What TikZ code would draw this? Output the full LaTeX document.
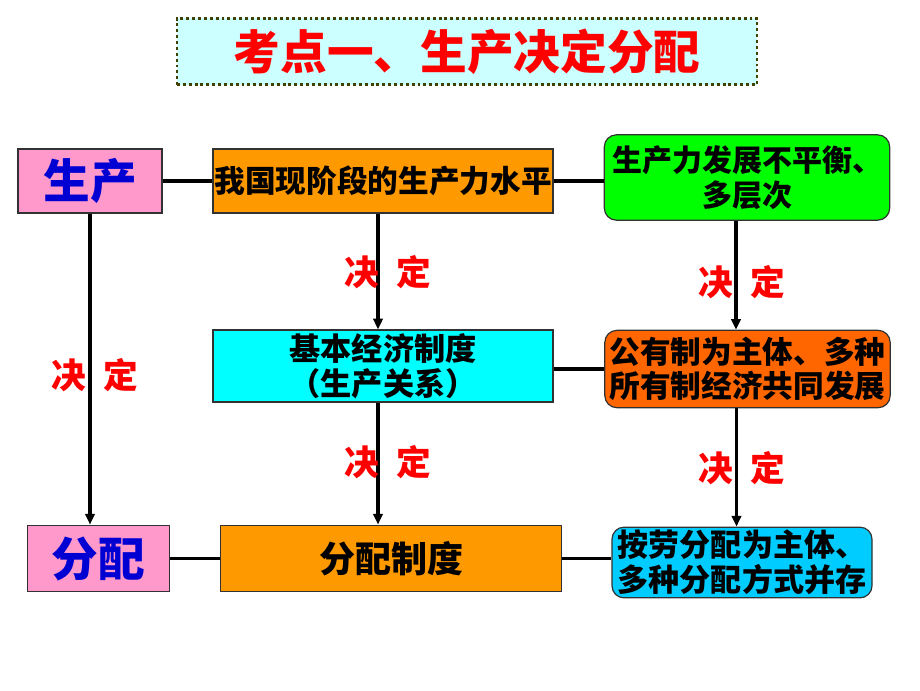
\documentclass[tikz,border=0pt]{standalone}
\usepackage{fontspec}
\setmainfont{Noto Sans CJK SC}
\usetikzlibrary{positioning, arrows.meta, calc}
\definecolor{titlebg}{RGB}{204,255,255}
\definecolor{titledot}{RGB}{64,64,0}
\definecolor{pinkcol}{RGB}{255,153,204}
\definecolor{orgcol}{RGB}{255,153,0}
\definecolor{grncol}{RGB}{0,255,0}
\definecolor{cyancol}{RGB}{0,255,255}
\definecolor{redorg}{RGB}{255,102,0}
\definecolor{skycol}{RGB}{0,204,255}
\definecolor{bluetxt}{RGB}{0,0,210}
\definecolor{boxline}{RGB}{50,50,50}

\begin{document}
\begin{tikzpicture}[x=0.75pt, y=-0.75pt, font=\bfseries,
  box/.style={draw=boxline, line width=0.9pt, inner sep=0pt, align=center},
  roundbox/.style={box, rounded corners=9pt},
  keybox/.style={box, fill=pinkcol, text=bluetxt, font=\fontsize{35}{38}\selectfont\bfseries},
  link/.style={line width=2.3pt, black},
  arr/.style={link, -{Triangle[length=8pt, width=7pt]}},
  decide/.style={text=red, font=\fontsize{26}{30}\selectfont\bfseries}]
\useasboundingbox (0,0) rectangle (920,690);

% title
\node[fill=titlebg, draw=titledot, line width=2.2pt, dash pattern=on 2.2pt off 2.2pt,
  minimum width=435pt, minimum height=50pt, text=red,
  font=\fontsize{35}{38}\selectfont\bfseries] (title) at (467,51.5) {考点一、生产决定分配};

% left column
\node[keybox, minimum width=108pt, minimum height=48pt] (prod) at (90,181) {生产};
\node[keybox, minimum width=107pt, minimum height=50pt] (dist) at (98.5,558.5) {分配};

% middle column
\node[box, fill=orgcol, minimum width=255pt, minimum height=48pt,
  font=\fontsize{23}{26}\selectfont\bfseries] (level) at (383,181) {我国现阶段的生产力水平};
\node[box, fill=cyancol, minimum width=255pt, minimum height=54pt,
  font=\fontsize{23.4}{26.5}\selectfont\bfseries] (basic) at (383,366) {基本经济制度\\（生产关系）};
\node[box, fill=orgcol, minimum width=256pt, minimum height=50pt,
  font=\fontsize{27}{30}\selectfont\bfseries] (distsys) at (391,558.5) {分配制度};

% right column
\node[roundbox, fill=grncol, minimum width=214pt, minimum height=64pt,
  font=\fontsize{22.5}{26}\selectfont\bfseries] (uneven) at (747,177.5) {生产力发展不平衡、\\多层次};
\node[roundbox, fill=redorg, minimum width=214pt, minimum height=58pt,
  font=\fontsize{23}{25.5}\selectfont\bfseries] (owner) at (747.5,369) {公有制为主体、多种\\所有制经济共同发展};
\node[roundbox, fill=skycol, minimum width=195pt, minimum height=53pt,
  font=\fontsize{23.3}{26}\selectfont\bfseries] (labour) at (742,562.5) {按劳分配为主体、\\多种分配方式并存};

% links
\draw[link] (prod.east) -- (level.west);
\draw[link] (level.east) -- (level.east -| uneven.west);
\draw[link] (owner.west -| basic.east) -- (owner.west);
\draw[link] (dist.east) -- (distsys.west);
\draw[link] (distsys.east) -- (distsys.east -| labour.west);

% arrows
\draw[arr] (prod.south) -- (prod.south |- dist.north);
\draw[arr] ([xshift=-3.75pt]level.south) -- ([xshift=-3.75pt]level.south |- basic.north);
\draw[arr] ([xshift=-8.25pt]uneven.south) -- ([xshift=-8.25pt]uneven.south |- owner.north);
\draw[arr] ([xshift=-3.75pt]basic.south) -- ([xshift=-3.75pt]basic.south |- distsys.north);
\draw[arr] ([xshift=-8.25pt]owner.south) -- ([xshift=-8.25pt]owner.south |- labour.north);

% labels
\node[decide] (d1) at (388,272) {决\enspace 定};
\node[decide] (d2) at (742,282) {决\enspace 定};
\node[decide] (d3) at (95,375) {决\enspace 定};
\node[decide] (d4) at (388,462) {决\enspace 定};
\node[decide] (d5) at (742,468) {决\enspace 定};
\end{tikzpicture}
\end{document}
